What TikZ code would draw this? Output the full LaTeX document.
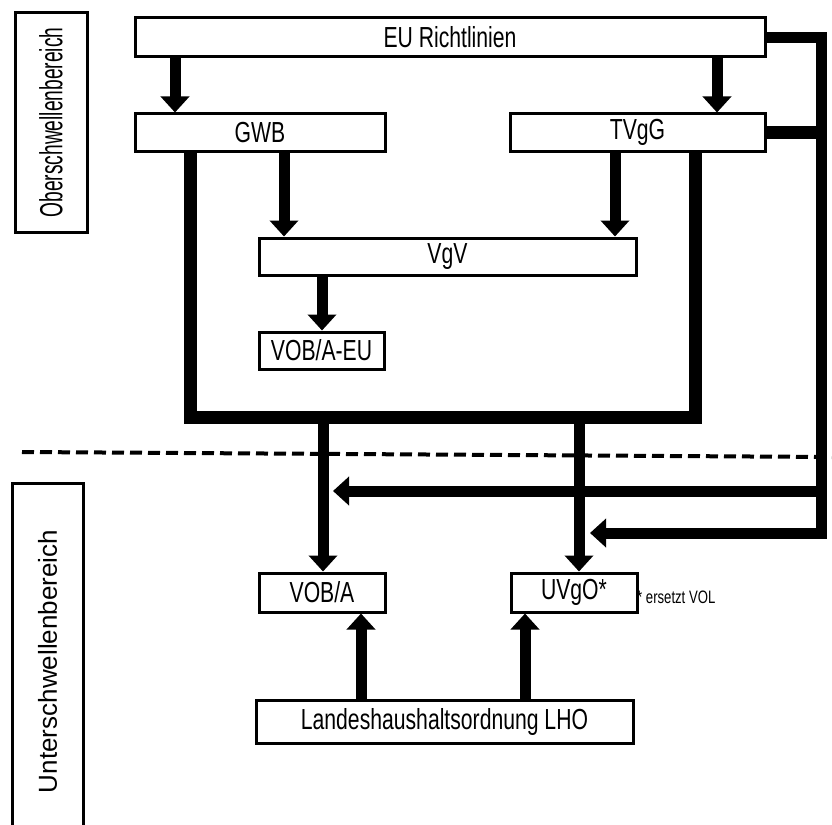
\documentclass[tikz,border=0pt]{standalone}
\usepackage{fontspec}
\setmainfont{Liberation Sans}
\newfontfamily\condfont[FakeStretch=0.73]{Liberation Sans}
\newfontfamily\slimfont[FakeStretch=0.6]{Liberation Sans}
\usetikzlibrary{arrows.meta}
\begin{document}
\begin{tikzpicture}[x=1pt,y=-1pt,
  vg_box/.style={shape=rectangle,draw,line width=3pt,fill=white,inner sep=0pt,font=\condfont\fontsize{29}{29}\selectfont},
  vg_line/.style={line width=13pt,line join=miter},
  vg_arrow/.style={line width=11pt,line join=miter,-{Triangle[length=16pt,width=28pt]}}]
\useasboundingbox (0,0) rectangle (832,824);
% Bereiche links
\node[vg_box,rotate=90,minimum width=219pt,minimum height=72pt,font=\slimfont\fontsize{32}{32}\selectfont] (ober) at (51,122.5) {Oberschwellenbereich};
\node[vg_box,rotate=90,minimum width=357pt,minimum height=71pt,font=\fontsize{26}{26}\selectfont] (unter) at (47.5,661.5) {Unterschwellenbereich};
% Kaesten
\node[vg_box,minimum width=630pt,minimum height=39pt] (eu) at (450,37.5) {EU Richtlinien};
\node[vg_box,minimum width=250pt,minimum height=37pt] (gwb) at (260,132.5) {GWB};
\node[vg_box,minimum width=255pt,minimum height=37pt] (tvgg) at (637.5,132.5) {TVgG};
\node[vg_box,minimum width=377pt,minimum height=37pt] (vgv) at (447.5,256.5) {VgV};
\node[vg_box,minimum width=125pt,minimum height=37pt] (vobaeu) at (321.5,350.5) {VOB/A-EU};
\node[vg_box,minimum width=126pt,minimum height=39pt] (voba) at (322,592.5) {VOB/A};
\node[vg_box,minimum width=126pt,minimum height=39pt] (uvgo) at (574,592.5) {UVgO*};
\node[vg_box,minimum width=377pt,minimum height=43pt] (lho) at (444.5,721.5) {Landeshaushaltsordnung LHO};
\node[anchor=west,inner sep=0pt,font=\condfont\fontsize{18}{18}\selectfont] (note) at (637,597) {* ersetzt VOL};
% Hilfspunkte
\coordinate (xa) at (175,0);
\coordinate (xb) at (717,0);
\coordinate (xc) at (284,0);
\coordinate (xd) at (615,0);
\coordinate (xe) at (322,0);
\coordinate (ul) at (190,417);
\coordinate (ur) at (695,417);
\coordinate (xh) at (323,0);
\coordinate (xi) at (579,0);
\coordinate (xj) at (361,0);
\coordinate (xk) at (525,0);
\coordinate (busa) at (821,491);
\coordinate (busb) at (821,533);
\coordinate (tipa) at (333,491);
\coordinate (tipb) at (590,533);
\coordinate (dl) at (22,452);
\coordinate (dr) at (832,457);
% Pfeile
\draw[vg_arrow] (eu.south -| xa) to (gwb.north -| xa);
\draw[vg_arrow] (eu.south -| xb) to (tvgg.north -| xb);
\draw[vg_arrow] (gwb.south -| xc) to (vgv.north -| xc);
\draw[vg_arrow] (tvgg.south -| xd) to (vgv.north -| xd);
\draw[vg_arrow] (vgv.south -| xe) to (vobaeu.north -| xe);
\draw[vg_line] (gwb.south -| ul) to (ul) to (ur) to (tvgg.south -| ur);
\draw[vg_arrow] (ul -| xh) to (voba.north -| xh);
\draw[vg_arrow] (ul -| xi) to (uvgo.north -| xi);
\draw[vg_arrow] (lho.north -| xj) to (voba.south -| xj);
\draw[vg_arrow] (lho.north -| xk) to (uvgo.south -| xk);
% rechte Sammelleitung
\draw[vg_arrow] (eu.east) -| (busb) to (tipb);
\draw[vg_line] (tvgg.east) to (tvgg.east -| busb);
\draw[vg_arrow] (busa) to (tipa);
% Schwelle
\draw[line width=4pt,dash pattern=on 12pt off 6pt] (dl) to (dr);
\end{tikzpicture}
\end{document}
